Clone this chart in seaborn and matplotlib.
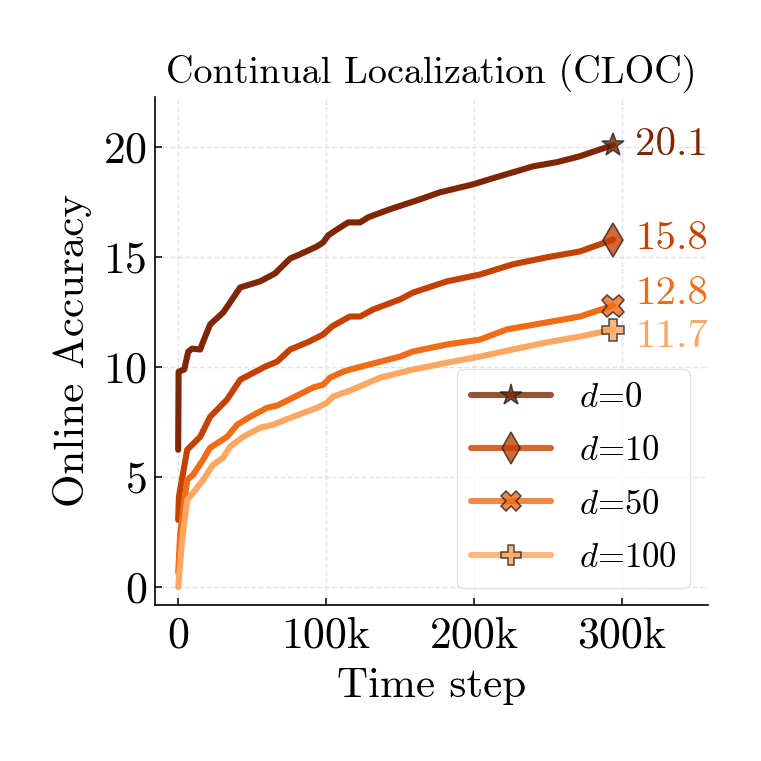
import numpy as np
import pandas as pd
import seaborn as sns
import matplotlib.pyplot as plt
from matplotlib.lines import Line2D
from matplotlib.ticker import FuncFormatter

# Online accuracy curves (x = time step)
steps_d0 = [0, 300, 4100, 6800, 9500, 14900, 16900, 21600, 30400, 35100, 41900, 48600,
            55400, 65500, 75700, 82400, 93900, 98000, 101400, 107400, 114900, 123000,
            128400, 143200, 163500, 177000, 199300, 212800, 226400, 239900, 256000,
            271600, 294000]
acc_d0 = [6.24, 9.79, 9.89, 10.7, 10.84, 10.8, 11.16, 11.94, 12.48, 12.94, 13.62, 13.76,
          13.9, 14.26, 14.94, 15.13, 15.49, 15.67, 15.99, 16.26, 16.58, 16.58,
          16.81, 17.18, 17.63, 17.95, 18.31, 18.59, 18.86, 19.13, 19.32,
          19.59, 20.1]

steps_d10 = [0, 500, 6100, 9500, 14900, 21600, 33000, 42000, 48600, 58800, 66900, 75700,
             87200, 98000, 104000, 116000, 123000, 131800, 150000, 158800, 181800,
             204000, 226000, 249000, 271600, 294000]
acc_d10 = [3.05, 4.1, 6.24, 6.47, 6.83, 7.74, 8.52, 9.43, 9.66, 10.02, 10.25, 10.8,
           11.12, 11.48, 11.85, 12.3, 12.3, 12.62, 13.08, 13.39, 13.9,
           14.21, 14.67, 14.99, 15.26, 15.8]

steps_d50 = [0, 1400, 6100, 10100, 16900, 21600, 33100, 39900, 48600, 60100, 66900,
             77700, 91200, 98000, 102700, 111500, 116200, 150000, 158800, 181800,
             204000, 222000, 249000, 271600, 294000]
acc_d50 = [0.64, 2.46, 4.87, 5.1, 5.79, 6.33, 6.83, 7.38, 7.74, 8.15, 8.25,
           8.61, 9.07, 9.2, 9.52, 9.79, 9.89, 10.48, 10.71, 11.03,
           11.25, 11.71, 12.03, 12.3, 12.8]

steps_d100 = [0, 2700, 6100, 10100, 16900, 23600, 30400, 35100, 43900, 55400, 64200,
              77700, 93900, 100700, 104700, 116200, 136500, 158800, 181800, 204000,
              226000, 249000, 271600, 294000]
acc_d100 = [0.0, 2.14, 3.96, 4.28, 4.87, 5.56, 5.88, 6.38, 6.83, 7.24, 7.38,
            7.74, 8.15, 8.38, 8.66, 8.93, 9.52, 9.89, 10.2, 10.48,
            10.8, 11.12, 11.39, 11.7]

delays = [0, 10, 50, 100]
final_text = ["20.1", "15.8", "12.8", "11.7"]

series = [(steps_d0, acc_d0), (steps_d10, acc_d10), (steps_d50, acc_d50), (steps_d100, acc_d100)]
names = [f"$d$={d}" for d in delays]

frames = []
for name, (xs, ys) in zip(names, series):
    frames.append(pd.DataFrame({"step": xs, "acc": ys, "setting": name}))
df = pd.concat(frames, ignore_index=True)

sns.set_style("ticks")
plt.rcParams['font.family'] = ['cmr10', 'DejaVu Serif']
plt.rcParams['mathtext.fontset'] = 'cm'
plt.rcParams['axes.unicode_minus'] = False
plt.rcParams['axes.formatter.use_mathtext'] = True
for k in ['text.color', 'axes.labelcolor', 'xtick.color', 'ytick.color', 'axes.edgecolor']:
    plt.rcParams[k] = 'black'

oranges = plt.get_cmap("Oranges")
colors = [oranges(1.0), oranges(0.8), oranges(0.62), oranges(0.4)]
markers = ['*', 'd', 'X', 'P']
msizes = [17, 17, 16, 16]
text_shift = [0, 0, 11, -7]   # pixels, to keep the end labels apart

fig = plt.figure(figsize=(7.61, 7.61), dpi=100)
ax = fig.add_axes([0.204, 0.205, 0.726, 0.668])

sns.lineplot(data=df, x="step", y="acc", hue="setting", hue_order=names,
             palette=colors, linewidth=4.4, estimator=None, sort=False,
             legend=False, ax=ax)

handles = []
for i, (xs, ys) in enumerate(series):
    ax.plot(xs[-1], ys[-1], marker=markers[i], ms=msizes[i], color=colors[i],
            mec='#222222', mew=1.1, alpha=0.8, linestyle='none', zorder=5)
    ax.annotate(final_text[i], (xs[-1], ys[-1]), xytext=(22, text_shift[i]),
                textcoords='offset pixels', color=colors[i], fontsize=29.5,
                va='center', ha='left', annotation_clip=False)
    handles.append(Line2D([0], [0], color=colors[i], lw=4.4, alpha=0.8,
                          marker=markers[i], ms=msizes[i] - 1, mec='#222222', mew=1.1))

ax.set_xlim(-15500, 358000)
ax.set_ylim(-0.82, 22.3)
ax.set_xticks([0, 100000, 200000, 300000])
ax.set_yticks([0, 5, 10, 15, 20])
ax.xaxis.set_major_formatter(FuncFormatter(lambda v, p: "0" if v == 0 else f"{int(v/1000)}k"))
ax.tick_params(direction='in', length=5, width=1.1, labelsize=31.5)
ax.tick_params(axis='x', pad=8)
ax.tick_params(axis='y', pad=6)
ax.grid(True, linestyle='--', color='#e3e3e3', linewidth=1.0)
ax.set_axisbelow(True)
sns.despine(ax=ax)
for s in ['left', 'bottom']:
    ax.spines[s].set_linewidth(1.2)
    ax.spines[s].set_color('black')

ax.set_title("Continual Localization (CLOC)", fontsize=27.5, pad=10)
ax.set_xlabel("Time step", fontsize=31, labelpad=8)
ax.set_ylabel("Online Accuracy", fontsize=31, labelpad=8)

leg = ax.legend(handles, names, loc='lower right', fontsize=25, handlelength=2.3,
                handletextpad=0.8, labelspacing=0.62, frameon=True, fancybox=True,
                framealpha=0.8, edgecolor='#dddddd')

fig.savefig("out.png", dpi=100)
